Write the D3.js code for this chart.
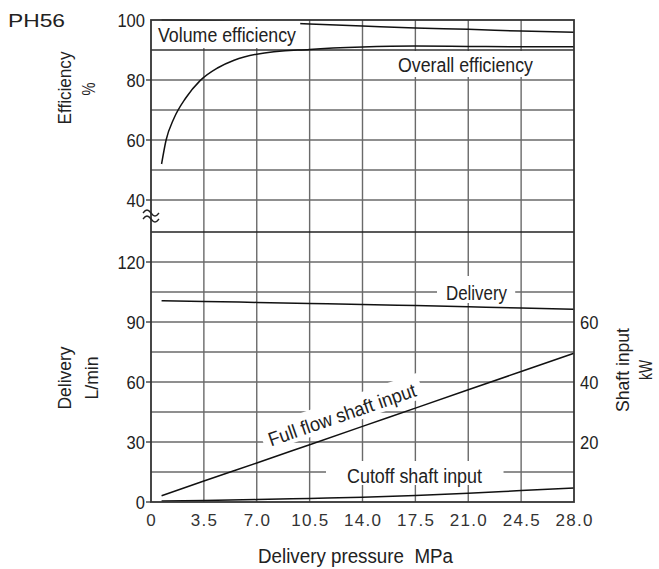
<!DOCTYPE html>
<html>
<head>
<meta charset="utf-8">
<script src="https://cdn.jsdelivr.net/npm/d3@7"></script>
<style>
  body { margin: 0; background: #fff; }
  svg { display: block; }
  .lbl { font-family: "Liberation Sans", Arial, sans-serif; fill: #222; }
</style>
</head>
<body>
<div id="chart"></div>
<script>
// x axis: delivery pressure, MPa
const pressureTicks = [0, 3.5, 7.0, 10.5, 14.0, 17.5, 21.0, 24.5, 28.0];
const pressure = [0.7, 3.5, 7.0, 10.5, 14.0, 17.5, 21.0, 24.5, 28.0];

// efficiency, %
const volumeEfficiency = [100, 99.8, 99.4, 98.7, 98.0, 97.3, 96.9, 96.3, 95.9];
const overallPressure = [0.7, 1.0, 1.5, 2.3, 3.25, 4.4, 5.5, 7.0, 10.5, 14.0, 17.5, 21.0, 24.5, 28.0];
const overallEfficiency = [52, 60, 67, 74, 79.8, 84, 86.6, 88.6, 90.2, 91.0, 91.3, 91.2, 91.1, 91.1];

// delivery, L/min
const delivery = [100.6, 100.3, 99.8, 99.3, 98.8, 98.2, 97.6, 97.0, 96.3];

// shaft input, kW
const fullFlowInput = [2.1, 7.0, 13.0, 19.1, 25.2, 31.3, 37.4, 43.5, 49.6];
const cutoffInput = [0.3, 0.5, 0.8, 1.2, 1.6, 2.2, 2.9, 3.8, 4.7];

// ticks / grid
const effGrid = [40, 50, 60, 70, 80, 90];
const effTickLabels = [40, 60, 80, 100];
const deliveryGrid = [15, 30, 45, 60, 75, 90, 105, 120, 135];
const deliveryTickLabels = [0, 30, 60, 90, 120];
const kwTickLabels = [20, 40, 60];

const width = 659, height = 569;
const plotLeft = 151, plotRight = 574, plotTop = 20, plotBottom = 502;

const svg = d3.select('#chart').append('svg')
  .attr('width', width)
  .attr('height', height);

const x = d3.scaleLinear().domain([0, 28]).range([plotLeft, plotRight]);
const yEff = d3.scaleLinear().domain([40, 100]).range([200, plotTop]);
const yDel = d3.scaleLinear().domain([0, 135]).range([plotBottom, 232]);
const yKw = d3.scaleLinear().domain([0, 90]).range([plotBottom, 232]);

const gridColor = '#6a6a6a';

// vertical grid
svg.append('g')
  .selectAll('line')
  .data(pressureTicks.slice(1, -1))
  .enter()
  .append('line')
  .attr('x1', d => x(d)).attr('x2', d => x(d))
  .attr('y1', plotTop).attr('y2', plotBottom)
  .attr('stroke', gridColor)
  .attr('stroke-width', 1.4);

// horizontal grid, efficiency part
svg.append('g')
  .selectAll('line')
  .data(effGrid)
  .enter()
  .append('line')
  .attr('x1', plotLeft).attr('x2', plotRight)
  .attr('y1', d => yEff(d)).attr('y2', d => yEff(d))
  .attr('stroke', d => d === 90 ? '#333' : gridColor)
  .attr('stroke-width', 1.4);

// horizontal grid, delivery part
svg.append('g')
  .selectAll('line')
  .data(deliveryGrid)
  .enter()
  .append('line')
  .attr('x1', plotLeft).attr('x2', plotRight)
  .attr('y1', d => yDel(d)).attr('y2', d => yDel(d))
  .attr('stroke', d => d === 135 ? '#222' : gridColor)
  .attr('stroke-width', 1.4);

// curves
function drawCurve(xs, ys, yScale) {
  const line = d3.line()
    .x(d => x(d[0]))
    .y(d => yScale(d[1]))
    .curve(d3.curveMonotoneX);
  svg.append('path')
    .datum(xs.map((p, i) => [p, ys[i]]))
    .attr('d', line)
    .attr('fill', 'none')
    .attr('stroke', '#111')
    .attr('stroke-width', 1.5);
}

drawCurve(pressure, volumeEfficiency, yEff);
drawCurve(overallPressure, overallEfficiency, yEff);
drawCurve(pressure, delivery, yDel);
drawCurve(pressure, fullFlowInput, yKw);
drawCurve(pressure, cutoffInput, yKw);

/**
 * label with white box behind it, pad = [left, right, top, bottom]
 */
function boxedLabel(text, tx, ty, size, len, pad, angle) {
  const g = svg.append('g')
    .attr('transform', 'translate(' + tx + ',' + ty + ') rotate(' + (angle || 0) + ')');
  const t = g.append('text')
    .attr('class', 'lbl')
    .attr('font-size', size)
    .attr('textLength', len)
    .attr('lengthAdjust', 'spacingAndGlyphs')
    .text(text);
  const bb = t.node().getBBox();
  g.insert('rect', 'text')
    .attr('x', bb.x - pad[0])
    .attr('y', bb.y - pad[2])
    .attr('width', bb.width + pad[0] + pad[1])
    .attr('height', bb.height + pad[2] + pad[3])
    .attr('fill', '#fff');
}

boxedLabel('Volume efficiency', 158, 42, 19.5, 138, [7, 4, 3, 2]);
boxedLabel('Overall efficiency', 398, 72, 19.5, 135, [3, 4, 3, 1]);
boxedLabel('Delivery', 446, 300, 19.5, 61, [9, 8, 6, -1]);
boxedLabel('Cutoff shaft input', 347, 483, 19.5, 135, [21, 21, 4, -2]);

// full flow label sits parallel to its line
const ffAngle = Math.atan2(yKw(fullFlowInput[8]) - yKw(fullFlowInput[0]), x(28) - x(0.7)) * 180 / Math.PI;
boxedLabel('Full flow shaft input', 271, 446.5, 19.5, 155, [6, 6, 4, 0], ffAngle);

// frame
svg.append('rect')
  .attr('x', plotLeft).attr('y', plotTop)
  .attr('width', plotRight - plotLeft).attr('height', plotBottom - plotTop)
  .attr('fill', 'none')
  .attr('stroke', '#333')
  .attr('stroke-width', 1.8);

// left ticks + labels
const tickFont = 19;
const tickLen = d => String(d).length * 9.2;

svg.append('g')
  .selectAll('text')
  .data(effTickLabels)
  .enter()
  .append('text')
  .attr('class', 'lbl')
  .attr('font-size', tickFont)
  .attr('text-anchor', 'end')
  .attr('textLength', tickLen)
  .attr('lengthAdjust', 'spacingAndGlyphs')
  .attr('x', 145)
  .attr('y', d => yEff(d))
  .attr('dy', '0.35em')
  .text(d => d);

svg.append('g')
  .selectAll('text')
  .data(deliveryTickLabels)
  .enter()
  .append('text')
  .attr('class', 'lbl')
  .attr('font-size', tickFont)
  .attr('text-anchor', 'end')
  .attr('textLength', tickLen)
  .attr('lengthAdjust', 'spacingAndGlyphs')
  .attr('x', 145)
  .attr('y', d => yDel(d))
  .attr('dy', '0.35em')
  .text(d => d);

svg.append('g')
  .selectAll('line')
  .data(effTickLabels.slice(0, -1).map(yEff).concat(deliveryTickLabels.map(yDel)))
  .enter()
  .append('line')
  .attr('x1', 146).attr('x2', plotLeft)
  .attr('y1', d => d).attr('y2', d => d)
  .attr('stroke', '#333')
  .attr('stroke-width', 1.3);

// right labels (kW)
svg.append('g')
  .selectAll('text')
  .data(kwTickLabels)
  .enter()
  .append('text')
  .attr('class', 'lbl')
  .attr('font-size', tickFont)
  .attr('textLength', tickLen)
  .attr('lengthAdjust', 'spacingAndGlyphs')
  .attr('x', 580)
  .attr('y', d => yKw(d))
  .attr('dy', '0.35em')
  .text(d => d);

// bottom labels
svg.append('g')
  .selectAll('text')
  .data(pressureTicks)
  .enter()
  .append('text')
  .attr('font-family', '"Liberation Sans", sans-serif')
  .attr('font-size', 17)
  .attr('fill', '#333')
  .attr('text-anchor', 'middle')
  .attr('letter-spacing', d => d === 0 ? 0 : 1.3)
  .attr('x', d => x(d) + (d === 0 ? 0 : 0.7))
  .attr('y', 526)
  .text(d => d === 0 ? '0' : d.toFixed(1));

// axis break mark on the left axis
const breakY = (yEff(40) + yDel(135)) / 2;
[-3, 3].forEach(o => {
  svg.append('path')
    .attr('d', 'M' + (plotLeft - 8) + ',' + (breakY + o) + ' c3,-4 5,-4 8,0 s5,4 8,0')
    .attr('fill', 'none')
    .attr('stroke', '#222')
    .attr('stroke-width', 1.3);
});

// titles
svg.append('text')
  .attr('font-family', '"Liberation Sans", sans-serif')
  .attr('font-size', 18.7)
  .attr('fill', '#222')
  .attr('x', 8).attr('y', 27)
  .attr('textLength', 57)
  .attr('lengthAdjust', 'spacingAndGlyphs')
  .text('PH56');

function vTitle(text, cx, cy, len) {
  svg.append('text')
    .attr('class', 'lbl')
    .attr('font-size', 19)
    .attr('text-anchor', 'middle')
    .attr('transform', 'translate(' + cx + ',' + cy + ') rotate(-90)')
    .attr('textLength', len)
    .attr('lengthAdjust', 'spacingAndGlyphs')
    .text(text);
}

vTitle('Efficiency', 71, 88, 73);
vTitle('%', 95, 89, 13);
vTitle('Delivery', 71, 378, 63);
vTitle('L/min', 98, 378, 43);
vTitle('Shaft input', 629, 370, 84);
vTitle('kW', 652, 370, 20);

svg.append('text')
  .attr('class', 'lbl')
  .attr('font-size', 19.5)
  .attr('x', 258).attr('y', 563)
  .attr('textLength', 195)
  .attr('lengthAdjust', 'spacingAndGlyphs')
  .style('white-space', 'pre')
  .text('Delivery pressure  MPa');
</script>
</body>
</html>
